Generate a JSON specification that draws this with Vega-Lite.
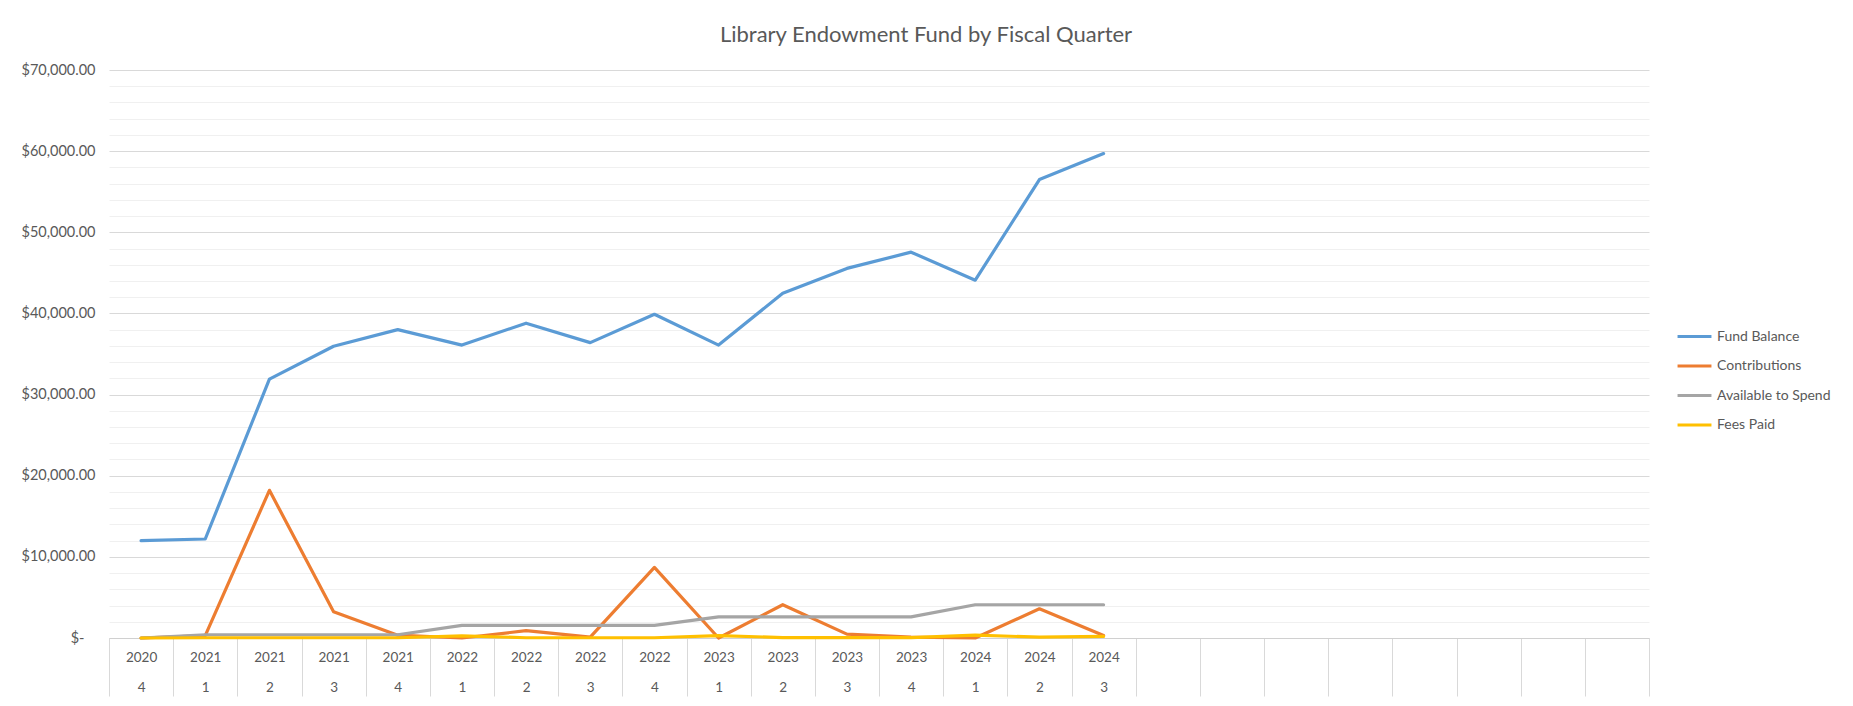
{
  "$schema": "https://vega.github.io/schema/vega-lite/v6.json",
  "width": 1540,
  "height": 568,
  "autosize": {"type": "none"},
  "padding": {"left": 109, "top": 70, "right": 204, "bottom": 68},
  "background": "white",
  "title": {"text": "Library Endowment Fund by Fiscal Quarter", "font": "Lato", "fontSize": 22, "fontWeight": "normal", "color": "#595959", "anchor": "middle", "dx": 47, "offset": 15},
  "data": {"values": [
    {"period": "2020|4", "series": "Fund Balance", "amount": 12000},
    {"period": "2021|1", "series": "Fund Balance", "amount": 12200},
    {"period": "2021|2", "series": "Fund Balance", "amount": 31900},
    {"period": "2021|3", "series": "Fund Balance", "amount": 35950},
    {"period": "2021|4", "series": "Fund Balance", "amount": 38000},
    {"period": "2022|1", "series": "Fund Balance", "amount": 36100},
    {"period": "2022|2", "series": "Fund Balance", "amount": 38800},
    {"period": "2022|3", "series": "Fund Balance", "amount": 36400},
    {"period": "2022|4", "series": "Fund Balance", "amount": 39900},
    {"period": "2023|1", "series": "Fund Balance", "amount": 36100},
    {"period": "2023|2", "series": "Fund Balance", "amount": 42500},
    {"period": "2023|3", "series": "Fund Balance", "amount": 45550},
    {"period": "2023|4", "series": "Fund Balance", "amount": 47550},
    {"period": "2024|1", "series": "Fund Balance", "amount": 44100},
    {"period": "2024|2", "series": "Fund Balance", "amount": 56500},
    {"period": "2024|3", "series": "Fund Balance", "amount": 59700},
    {"period": "2020|4", "series": "Contributions", "amount": 0},
    {"period": "2021|1", "series": "Contributions", "amount": 300},
    {"period": "2021|2", "series": "Contributions", "amount": 18200},
    {"period": "2021|3", "series": "Contributions", "amount": 3250},
    {"period": "2021|4", "series": "Contributions", "amount": 350},
    {"period": "2022|1", "series": "Contributions", "amount": 0},
    {"period": "2022|2", "series": "Contributions", "amount": 900},
    {"period": "2022|3", "series": "Contributions", "amount": 100},
    {"period": "2022|4", "series": "Contributions", "amount": 8700},
    {"period": "2023|1", "series": "Contributions", "amount": 0},
    {"period": "2023|2", "series": "Contributions", "amount": 4100},
    {"period": "2023|3", "series": "Contributions", "amount": 480},
    {"period": "2023|4", "series": "Contributions", "amount": 100},
    {"period": "2024|1", "series": "Contributions", "amount": 0},
    {"period": "2024|2", "series": "Contributions", "amount": 3600},
    {"period": "2024|3", "series": "Contributions", "amount": 300},
    {"period": "2020|4", "series": "Available to Spend", "amount": 0},
    {"period": "2021|1", "series": "Available to Spend", "amount": 400},
    {"period": "2021|2", "series": "Available to Spend", "amount": 400},
    {"period": "2021|3", "series": "Available to Spend", "amount": 400},
    {"period": "2021|4", "series": "Available to Spend", "amount": 400},
    {"period": "2022|1", "series": "Available to Spend", "amount": 1550},
    {"period": "2022|2", "series": "Available to Spend", "amount": 1550},
    {"period": "2022|3", "series": "Available to Spend", "amount": 1550},
    {"period": "2022|4", "series": "Available to Spend", "amount": 1550},
    {"period": "2023|1", "series": "Available to Spend", "amount": 2600},
    {"period": "2023|2", "series": "Available to Spend", "amount": 2600},
    {"period": "2023|3", "series": "Available to Spend", "amount": 2600},
    {"period": "2023|4", "series": "Available to Spend", "amount": 2600},
    {"period": "2024|1", "series": "Available to Spend", "amount": 4100},
    {"period": "2024|2", "series": "Available to Spend", "amount": 4100},
    {"period": "2024|3", "series": "Available to Spend", "amount": 4100},
    {"period": "2020|4", "series": "Fees Paid", "amount": 0},
    {"period": "2021|1", "series": "Fees Paid", "amount": 30},
    {"period": "2021|2", "series": "Fees Paid", "amount": 30},
    {"period": "2021|3", "series": "Fees Paid", "amount": 30},
    {"period": "2021|4", "series": "Fees Paid", "amount": 30},
    {"period": "2022|1", "series": "Fees Paid", "amount": 270},
    {"period": "2022|2", "series": "Fees Paid", "amount": 30},
    {"period": "2022|3", "series": "Fees Paid", "amount": 30},
    {"period": "2022|4", "series": "Fees Paid", "amount": 30},
    {"period": "2023|1", "series": "Fees Paid", "amount": 300},
    {"period": "2023|2", "series": "Fees Paid", "amount": 50},
    {"period": "2023|3", "series": "Fees Paid", "amount": 50},
    {"period": "2023|4", "series": "Fees Paid", "amount": 50},
    {"period": "2024|1", "series": "Fees Paid", "amount": 350},
    {"period": "2024|2", "series": "Fees Paid", "amount": 100},
    {"period": "2024|3", "series": "Fees Paid", "amount": 200}
  ]},
  "mark": {"type": "line", "strokeWidth": 3.2, "strokeCap": "round", "strokeJoin": "round"},
  "encoding": {
    "x": {
      "field": "period",
      "type": "ordinal",
      "scale": {
        "type": "band",
        "paddingInner": 0,
        "paddingOuter": 0,
        "domain": ["2020|4", "2021|1", "2021|2", "2021|3", "2021|4", "2022|1", "2022|2", "2022|3", "2022|4", "2023|1", "2023|2", "2023|3", "2023|4", "2024|1", "2024|2", "2024|3", "e1", "e2", "e3", "e4", "e5", "e6", "e7", "e8"]
      },
      "axis": {
        "title": null,
        "grid": false,
        "tickBand": "extent",
        "tickSize": 58,
        "tickColor": "#d9d9d9",
        "tickWidth": 1,
        "domainColor": "#d0d0d0",
        "domainWidth": 1,
        "labelAngle": 0,
        "labelOverlap": false,
        "labelExpr": "isString(datum.value) && indexof(datum.value, '|') > 0 ? [slice(datum.value, 0, 4), slice(datum.value, 5)] : ''",
        "labelLineHeight": 30,
        "labelPadding": -46,
        "labelBaseline": "top",
        "labelFont": "Lato",
        "labelFontSize": 13.5,
        "labelColor": "#595959"
      }
    },
    "y": {
      "field": "amount",
      "type": "quantitative",
      "scale": {"domain": [0, 70000], "nice": false, "zero": true},
      "axis": {
        "title": null,
        "values": [0, 2000, 4000, 6000, 8000, 10000, 12000, 14000, 16000, 18000, 20000, 22000, 24000, 26000, 28000, 30000, 32000, 34000, 36000, 38000, 40000, 42000, 44000, 46000, 48000, 50000, 52000, 54000, 56000, 58000, 60000, 62000, 64000, 66000, 68000, 70000],
        "grid": true,
        "gridColor": {"condition": {"test": "datum.value % 10000 === 0", "value": "#d9d9d9"}, "value": "#f0f0f0"},
        "gridWidth": 1,
        "domain": false,
        "ticks": false,
        "labelExpr": "datum.value === 0 ? '$-' : (datum.value % 10000 === 0 ? '$' + format(datum.value, ',.2f') : '')",
        "labelPadding": {"condition": {"test": "datum.value === 0", "value": 25}, "value": 14},
        "labelFont": "Lato",
        "labelFontSize": 14.5,
        "labelColor": "#595959"
      }
    },
    "color": {
      "field": "series",
      "type": "nominal",
      "scale": {"domain": ["Fund Balance", "Contributions", "Available to Spend", "Fees Paid"], "range": ["#5B9BD5", "#ED7D31", "#A5A5A5", "#FFC000"]},
      "legend": {
        "title": null,
        "orient": "none",
        "legendX": 1567,
        "legendY": 248,
        "symbolType": "stroke",
        "symbolStrokeWidth": 3,
        "symbolSize": 1150,
        "labelOffset": 4,
        "rowPadding": 3.5,
        "labelFont": "Lato",
        "labelFontSize": 14,
        "labelColor": "#595959"
      }
    }
  },
  "config": {"view": {"stroke": null}}
}
